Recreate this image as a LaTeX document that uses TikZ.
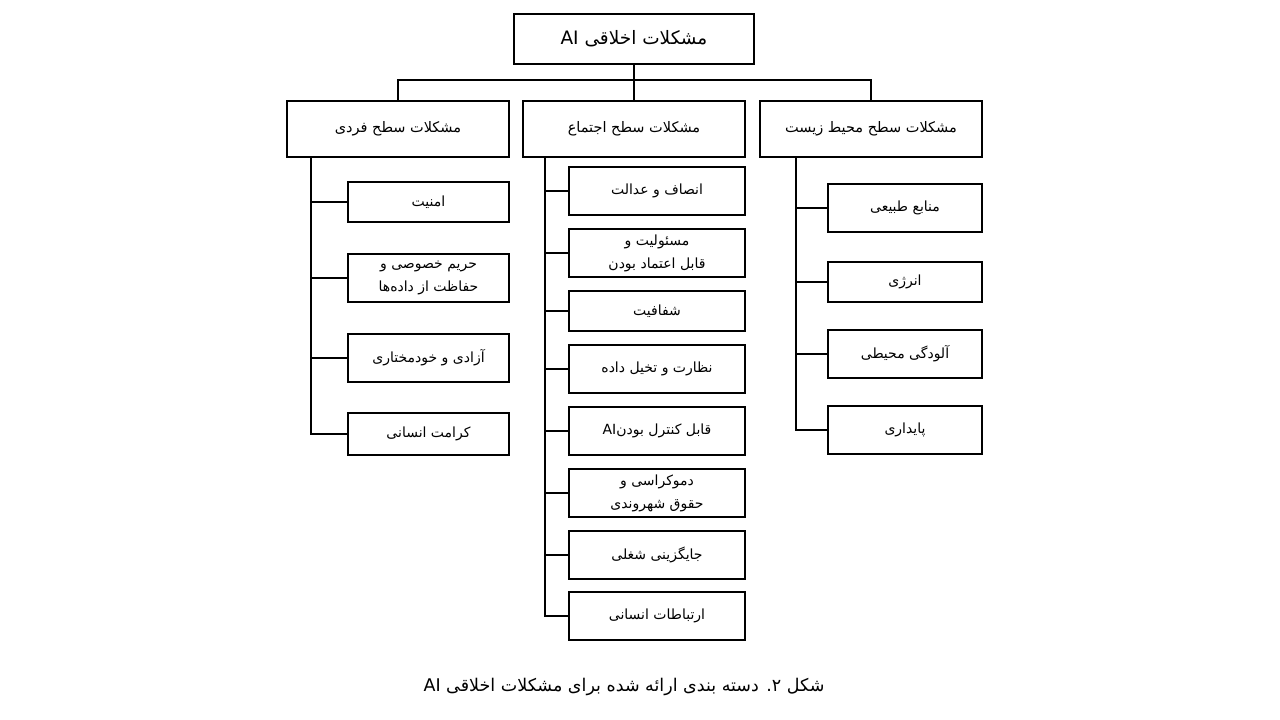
\documentclass[tikz,border=0pt]{standalone}
\usepackage{fontspec}
\TeXXeTstate=1
\newfontfamily\arabicfont[Script=Arabic]{DejaVu Sans}
\newcommand\fa[1]{\beginR #1\endR}
\newcommand\lat[1]{\beginL #1\endL{}}
\tikzset{
  box/.style={draw, line width=1.8pt, inner sep=0pt, align=center},
  txtS/.style={font=\arabicfont\fontsize{14}{23}\selectfont},
  txtM/.style={font=\arabicfont\fontsize{14.5}{20}\selectfont},
  txtL/.style={font=\arabicfont\fontsize{18.5}{22}\selectfont},
  txtC/.style={font=\arabicfont\fontsize{17.5}{22}\selectfont},
  link/.style={line width=1.8pt},
}
\begin{document}
\begin{tikzpicture}[x=1pt,y=-1pt]
\useasboundingbox (0,0) rectangle (1280,720);
% top
\node[box,txtL,minimum width=240,minimum height=50] (top) at (634,39) {\fa{مشکلات اخلاقی \lat{AI}}};
% categories
\node[box,txtM,minimum width=222,minimum height=56] (L) at (398,129) {\fa{مشکلات سطح فردی}};
\node[box,txtM,minimum width=222,minimum height=56] (M) at (634,129) {\fa{مشکلات سطح اجتماع}};
\node[box,txtM,minimum width=222,minimum height=56] (R) at (871,129) {\fa{مشکلات سطح محیط زیست}};
\coordinate (bus) at (634,80);
\draw[link] (top.south) -- (M.north);
\draw[link] (L.north) |- (bus) -| (R.north);
% left column
\node[box,txtS,minimum width=161,minimum height=40] (L1) at (428.5,202) {\fa{امنیت}};
\node[box,txtS,minimum width=161,minimum height=48] (L2) at (428.5,278) {\fa{حریم خصوصی و}\\\fa{حفاظت از داده‌ها}};
\node[box,txtS,minimum width=161,minimum height=48] (L3) at (428.5,358) {\fa{آزادی و خودمختاری}};
\node[box,txtS,minimum width=161,minimum height=42] (L4) at (428.5,434) {\fa{کرامت انسانی}};
\coordinate (sL) at (311,157);
\draw[link] (sL) |- (L4.west);
\foreach \n in {L1,L2,L3} \draw[link] (sL |- \n.west) -- (\n.west);
% middle column
\node[box,txtS,minimum width=176,minimum height=48] (M1) at (657,191) {\fa{انصاف و عدالت}};
\node[box,txtS,minimum width=176,minimum height=48] (M2) at (657,253) {\fa{مسئولیت و}\\\fa{قابل اعتماد بودن}};
\node[box,txtS,minimum width=176,minimum height=40] (M3) at (657,311) {\fa{شفافیت}};
\node[box,txtS,minimum width=176,minimum height=48] (M4) at (657,369) {\fa{نظارت و تخیل داده}};
\node[box,txtS,minimum width=176,minimum height=48] (M5) at (657,431) {\fa{قابل کنترل بودن\lat{AI}}};
\node[box,txtS,minimum width=176,minimum height=48] (M6) at (657,493) {\fa{دموکراسی و}\\\fa{حقوق شهروندی}};
\node[box,txtS,minimum width=176,minimum height=48] (M7) at (657,555) {\fa{جایگزینی شغلی}};
\node[box,txtS,minimum width=176,minimum height=48] (M8) at (657,616) {\fa{ارتباطات انسانی}};
\coordinate (sM) at (545,157);
\draw[link] (sM) |- (M8.west);
\foreach \n in {M1,M2,M3,M4,M5,M6,M7} \draw[link] (sM |- \n.west) -- (\n.west);
% right column
\node[box,txtS,minimum width=154,minimum height=48] (R1) at (905,208) {\fa{منابع طبیعی}};
\node[box,txtS,minimum width=154,minimum height=40] (R2) at (905,282) {\fa{انرژی}};
\node[box,txtS,minimum width=154,minimum height=48] (R3) at (905,354) {\fa{آلودگی محیطی}};
\node[box,txtS,minimum width=154,minimum height=48] (R4) at (905,430) {\fa{پایداری}};
\coordinate (sR) at (796,157);
\draw[link] (sR) |- (R4.west);
\foreach \n in {R1,R2,R3} \draw[link] (sR |- \n.west) -- (\n.west);
% caption
\node[txtC] (cap) at (624,687) {\fa{شکل ۲. دسته بندی ارائه شده برای مشکلات اخلاقی \lat{AI}}};
\end{tikzpicture}
\end{document}
